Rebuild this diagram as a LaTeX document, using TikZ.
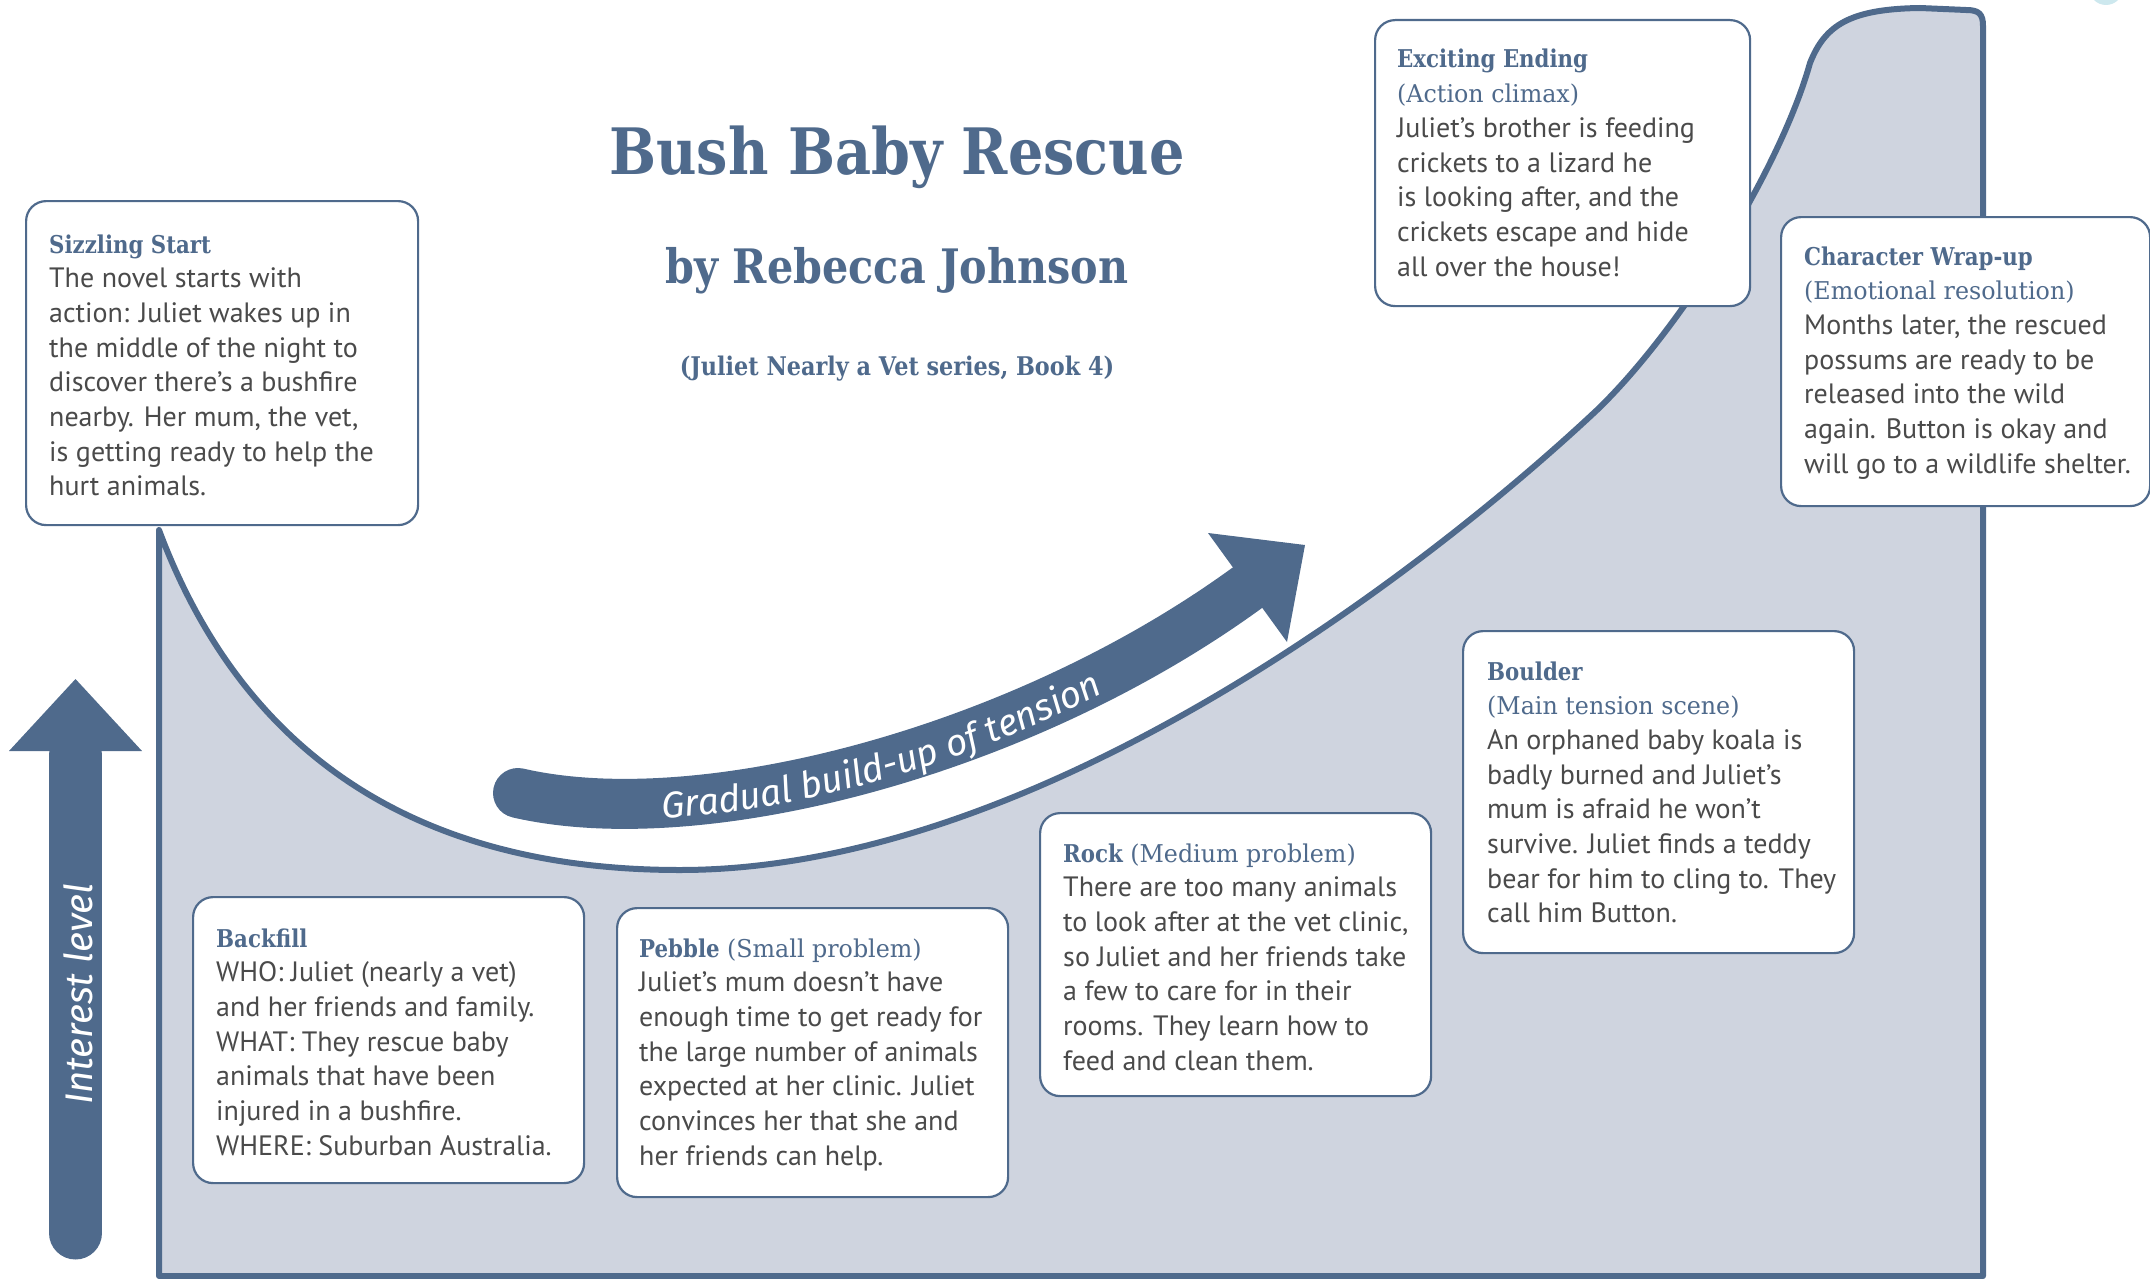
\documentclass[tikz,border=0pt]{standalone}
\usepackage{fontspec}
\setmainfont{PT Sans}
\newfontfamily\slabB{DejaVu Serif}[FakeStretch=0.87]
\newfontfamily\slabR{DejaVu Serif}[FakeStretch=0.97]
\newfontfamily\firaI{Fira Sans}
\usetikzlibrary{decorations.text}
\definecolor{sblue}{HTML}{4F6A8C}
\definecolor{sgray}{HTML}{CFD4DF}
\definecolor{stext}{HTML}{4A4A4A}
\definecolor{scyan}{HTML}{CDE8EE}
\newcommand\hb[1]{{\slabB\bfseries\fontsize{24.5}{34.7}\selectfont\color{sblue}#1}}
\newcommand\hr[1]{{\slabR\fontsize{24.5}{34.7}\selectfont\color{sblue}#1}}
\newcommand\boxtext[1]{\parbox[t]{420pt}{\raggedright\fontsize{28}{34.7}\selectfont\leavevmode#1}}
\tikzset{
  card/.style={draw=sblue, line width=2.2pt, fill=white, rounded corners=20pt, inner sep=0pt, anchor=north west},
  cardtext/.style={anchor=base west, inner sep=0pt, text=stext},
  titletext/.style={anchor=base, inner sep=0pt, text=sblue},
  whitelabel/.style={text=white, inner sep=0pt, font=\firaI\itshape\fontsize{38.5}{38.5}\selectfont}
}
\begin{document}
\begin{tikzpicture}[x=1pt,y=1pt]
\useasboundingbox (0,0) rectangle (2150,-1279);
\clip (0,0) rectangle (2150,-1279);
% decorative corner
\fill[scyan] (2106,12) circle (17);
% main area
\filldraw[fill=sgray, draw=sblue, line width=6pt, line join=round]
  (159,-1276) -- (159,-530)
  .. controls (230,-720) and (380,-870) .. (680,-870)
  .. controls (1050,-870) and (1447,-551) .. (1597,-410)
  .. controls (1680,-330) and (1780,-170) .. (1810,-63)
  .. controls (1825,-25) and (1850,-9) .. (1920,-8)
  -- (1966,-10) .. controls (1979,-10) and (1983,-14) .. (1983,-26)
  -- (1983,-1276) -- cycle;
% interest arrow
\coordinate (iB) at (75.5,-1233);
\coordinate (iT) at (75.5,-755);
\draw[sblue, line width=53pt, line cap=round] (iB) -- (iT);
\fill[sblue] (9,-751) -- (75.5,-679) -- (142,-751) -- cycle;
\node[whitelabel, rotate=90, anchor=base] (ilabel) at (92,-994) {Interest level};
% tension arrow
\coordinate (gA) at (518,-793);
\coordinate (gB) at (1247,-588);
\draw[sblue, line width=50pt, line cap=round] (gA) .. controls (700,-835) and (1020,-753) .. (gB);
\fill[sblue] (1208,-533) -- (1305,-545) -- (1287,-642) -- cycle;
\path[decorate, decoration={text along path, text color=white,
  text={|\firaI\itshape\fontsize{37}{37}\selectfont|Gradual build-up of tension},
  text align={left, left indent=140pt}}]
  (523,-808) .. controls (705,-850) and (1025,-768) .. (1252,-603);
% titles
\node[titletext, font=\slabB\bfseries\fontsize{64}{64}\selectfont] (title) at (897,-175) {Bush Baby Rescue};
\node[titletext, font=\slabB\bfseries\fontsize{47.5}{47.5}\selectfont] (author) at (897,-283) {by Rebecca Johnson};
\node[titletext, font=\slabB\bfseries\fontsize{25.7}{25.7}\selectfont] (series) at (897,-375) {(Juliet Nearly a Vet series, Book 4)};
% cards
\node[card, minimum width=392pt, minimum height=324pt] (sizzle) at (25,-200) {};
\node[cardtext] (sizzleT) at (49,-253) {\boxtext{\hb{Sizzling Start}\\
The novel starts with\\
action: Juliet wakes up in\\
the middle of the night to\\
discover there’s a bushfire\\
nearby. Her mum, the vet,\\
is getting ready to help the\\
hurt animals.}};
\node[card, minimum width=375pt, minimum height=286pt] (exciting) at (1374,-19) {};
\node[cardtext] (excitingT) at (1397,-68) {\boxtext{\hb{Exciting Ending}\\
\hr{(Action climax)}\\
Juliet’s brother is feeding\\
crickets to a lizard he\\
is looking after, and the\\
crickets escape and hide\\
all over the house!}};
\node[card, minimum width=369pt, minimum height=289pt] (wrap) at (1780,-216) {};
\node[cardtext] (wrapT) at (1804,-265) {\boxtext{\hb{Character Wrap-up}\\
\hr{(Emotional resolution)}\\
Months later, the rescued\\
possums are ready to be\\
released into the wild\\
again. Button is okay and\\
will go to a wildlife shelter.}};
\node[card, minimum width=391pt, minimum height=286pt] (backfill) at (192,-896) {};
\node[cardtext] (backfillT) at (216,-947) {\boxtext{\hb{Backfill}\\
WHO: Juliet (nearly a vet)\\
and her friends and family.\\
WHAT: They rescue baby\\
animals that have been\\
injured in a bushfire.\\
WHERE: Suburban Australia.}};
\node[card, minimum width=391pt, minimum height=289pt] (pebble) at (616,-907) {};
\node[cardtext] (pebbleT) at (639,-957) {\boxtext{\hb{Pebble} \hr{(Small problem)}\\
Juliet’s mum doesn’t have\\
enough time to get ready for\\
the large number of animals\\
expected at her clinic. Juliet\\
convinces her that she and\\
her friends can help.}};
\node[card, minimum width=391pt, minimum height=283pt] (rock) at (1039,-812) {};
\node[cardtext] (rockT) at (1063,-862) {\boxtext{\hb{Rock} \hr{(Medium problem)}\\
There are too many animals\\
to look after at the vet clinic,\\
so Juliet and her friends take\\
a few to care for in their\\
rooms. They learn how to\\
feed and clean them.}};
\node[card, minimum width=391pt, minimum height=322pt] (boulder) at (1462,-630) {};
\node[cardtext] (boulderT) at (1487,-680) {\boxtext{\hb{Boulder}\\
\hr{(Main tension scene)}\\
An orphaned baby koala is\\
badly burned and Juliet’s\\
mum is afraid he won’t\\
survive. Juliet finds a teddy\\
bear for him to cling to. They\\
call him Button.}};
\end{tikzpicture}
\end{document}
